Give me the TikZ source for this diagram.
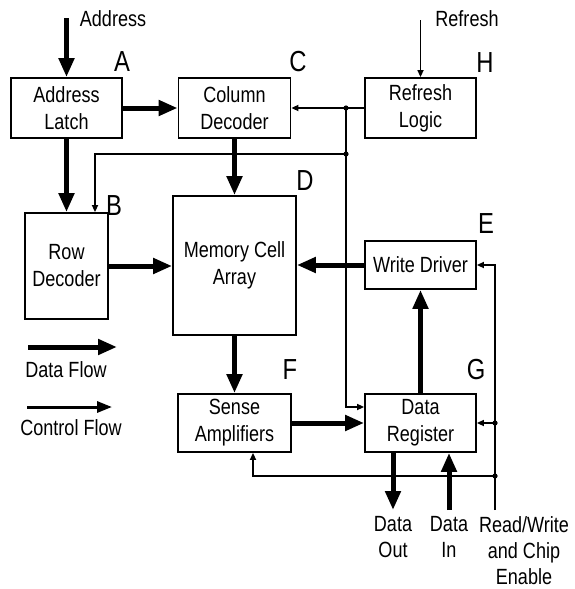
\documentclass[tikz,border=0pt]{standalone}
\usepackage{fontspec}
\setmainfont{Liberation Sans}[FakeStretch=0.82]
\usetikzlibrary{arrows.meta,calc}
\begin{document}
\begin{tikzpicture}[x=1pt,y=-1pt,
  box/.style={draw,line width=1.8pt,inner sep=0pt,align=center,font=\fontsize{22}{27}\selectfont},
  datafl/.style={line width=5pt,-{Triangle[length=19pt,width=15pt]}},
  ctrlfl/.style={line width=1.6pt,-{Triangle[length=7pt,width=6pt]}},
  legctrl/.style={line width=3pt,-{Triangle[length=15pt,width=11pt]}},
  lbl/.style={inner sep=0pt,font=\fontsize{22}{27}\selectfont,align=center},
  btm/.style={inner sep=0pt,font=\fontsize{22}{26}\selectfont,align=center},
  letter/.style={inner sep=0pt,font=\fontsize{29}{30}\selectfont}
]
\useasboundingbox (0,0) rectangle (574,589);

% boxes
\node[box,minimum width=111pt,minimum height=60pt] (al) at (66.5,108) {Address\\Latch};
\node[box,minimum width=112pt,minimum height=60pt] (cd) at (234.5,108) {Column\\Decoder};
\node[box,minimum width=111pt,minimum height=60pt] (rl) at (420.5,108) {Refresh\\Logic};
\node[box,minimum width=83pt,minimum height=106pt] (rd) at (66.5,266) {Row\\Decoder};
\node[box,minimum width=123pt,minimum height=139pt] (mca) at (234.5,265.5) {Memory Cell\\Array};
\node[box,minimum width=111pt,minimum height=48pt] (wd) at (420.5,265) {Write Driver};
\node[box,minimum width=113pt,minimum height=58pt] (sa) at (234.5,423) {Sense\\Amplifiers};
\node[box,minimum width=111pt,minimum height=58pt] (dr) at (420.5,423) {Data\\Register};

% letters
\node[letter] (la) at (122,62) {A};
\node[letter] (lc) at (298,62) {C};
\node[letter] (lh) at (485,63) {H};
\node[letter] (lb) at (114,206) {B};
\node[letter] (ld) at (305,181) {D};
\node[letter] (le) at (486,224) {E};
\node[letter] (lf) at (290,370) {F};
\node[letter] (lg) at (476,370) {G};

% external labels
\node[lbl,anchor=base] (taddr) at (113,27) {Address};
\node[lbl,anchor=base] (trefr) at (467,27) {Refresh};
\node[btm,anchor=north] (tdout) at (393,516) {Data\\Out};
\node[btm,anchor=north] (tdin) at (449,516) {Data\\In};
\node[btm,anchor=north] (trw) at (524,516) {Read/Write\\and Chip\\Enable};
\node[lbl,anchor=base] (tdf) at (66,377) {Data Flow};
\node[lbl,anchor=base] (tcf) at (71,435) {Control Flow};

% coordinates
\coordinate (addrin) at (66.5,18);
\coordinate (rfin) at (420.5,20);
\coordinate (j1) at (346,108);
\coordinate (j2) at (346,154);
\coordinate (rw) at (495,510);
\coordinate (j3) at (rw |- dr.east);
\coordinate (j4) at (495,476);
\coordinate (dout) at (393,510);
\coordinate (din) at (449,510);
\coordinate (lda) at (28,347);
\coordinate (ldb) at (117,347);
\coordinate (lca) at (27,407);
\coordinate (lcb) at (112,407);

% data flow
\draw[datafl] (addrin) -- (al.north);
\draw[datafl] (al.east) -- (cd.west);
\draw[datafl] (al.south) -- (rd.north);
\draw[datafl] (cd.south) -- (mca.north);
\draw[datafl] (rd.east) -- (rd.east -| mca.west);
\draw[datafl] (wd.west) -- (wd.west -| mca.east);
\draw[datafl] (mca.south) -- (sa.north);
\draw[datafl] (sa.east) -- (dr.west);
\draw[datafl] (dr.north) -- (wd.south);
\draw[datafl] (dout |- dr.south) -- (dout);
\draw[datafl] (din) -- (din |- dr.south);

% control flow
\draw[ctrlfl] (rfin) -- (rl.north);
\draw[ctrlfl] (rl.west) -- (cd.east);
\draw[line width=1.6pt] (j2) -- (j1);
\draw[ctrlfl] (j1) |- ($(dr.west)+(0,-16)$);
\draw[ctrlfl] (j2) -| ($(rd.north)+(28.5,0)$);
\draw[ctrlfl] (rw) |- (wd.east);
\draw[ctrlfl] (j3) -- (dr.east);
\draw[ctrlfl] (j4) -| ($(sa.south)+(18.5,0)$);
\foreach \j in {j1,j2,j3,j4} \fill (\j) circle (2.6pt);

% legend
\draw[datafl] (lda) -- (ldb);
\draw[legctrl] (lca) -- (lcb);
\end{tikzpicture}
\end{document}
